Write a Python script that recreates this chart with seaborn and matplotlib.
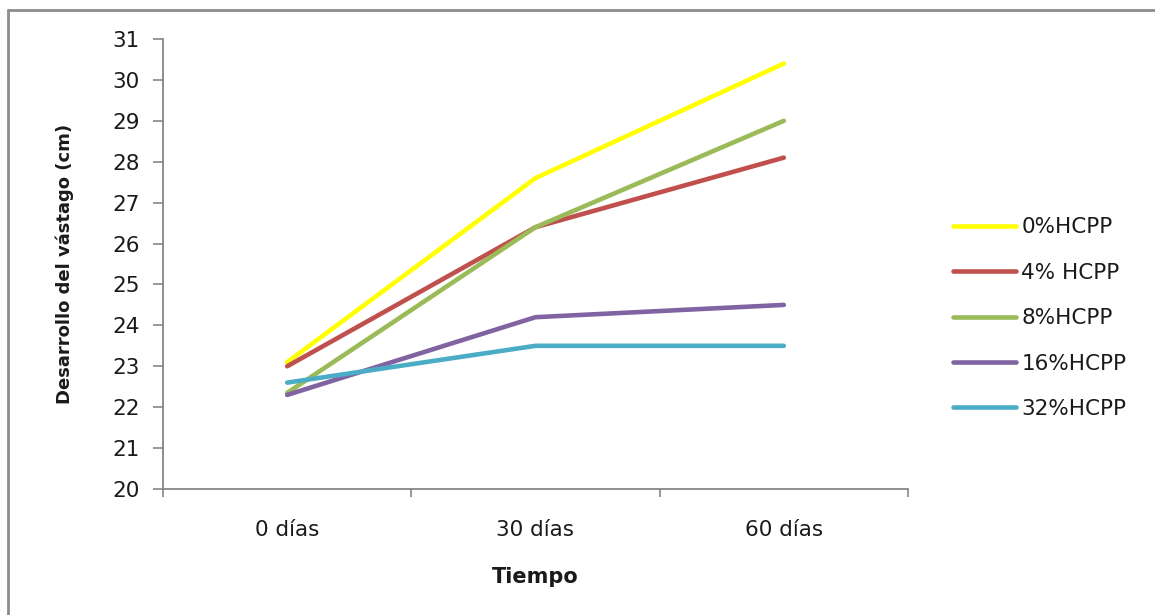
import matplotlib
matplotlib.use("Agg")
import matplotlib.pyplot as plt
from matplotlib.lines import Line2D
import seaborn as sns
import pandas as pd

# Data
tiempos = ["0 días", "30 días", "60 días"]
tratamientos = ["0%HCPP", "4% HCPP", "8%HCPP", "16%HCPP", "32%HCPP"]
hcpp_0 = [23.1, 27.6, 30.4]
hcpp_4 = [23.0, 26.4, 28.1]
hcpp_8 = [22.35, 26.4, 29.0]
hcpp_16 = [22.3, 24.2, 24.5]
hcpp_32 = [22.6, 23.5, 23.5]
colores = ["#FFFF00", "#C0504D", "#9BBB59", "#8064A2", "#4BACC6"]
y_ticks = list(range(20, 32))

series = [hcpp_0, hcpp_4, hcpp_8, hcpp_16, hcpp_32]
rows = []
for nombre, valores in zip(tratamientos, series):
    for t, v in zip(tiempos, valores):
        rows.append({"Tiempo": t, "valor": v, "Tratamiento": nombre})
df = pd.DataFrame(rows)

sns.set_style("white")
plt.rcParams["font.family"] = ["DejaVu Sans"]

TXT = "#1a1a1a"
GRIS = "#868686"

fig = plt.figure(figsize=(11.55, 6.15), dpi=100)
ax = fig.add_axes([163 / 1155, 1 - 489 / 615, (908 - 163) / 1155, (489 - 39) / 615])

sns.lineplot(data=df, x="Tiempo", y="valor", hue="Tratamiento",
             hue_order=tratamientos, palette=colores, sort=False,
             linewidth=3.3, ax=ax, legend=False)

ax.set_xlim(-0.5, 2.5)
ax.set_ylim(20, 31)
ax.set_yticks(y_ticks)
ax.set_yticklabels([str(v) for v in y_ticks], fontsize=15.5, color=TXT)
ax.set_xticks([0, 1, 2])
ax.set_xticklabels(tiempos, fontsize=15.5, color=TXT)
ax.set_xticks([-0.5, 0.5, 1.5, 2.5], minor=True)
ax.tick_params(left=True, bottom=True)
ax.tick_params(axis="x", which="major", length=0, pad=22)
ax.tick_params(axis="x", which="minor", bottom=True, length=6, width=1.2,
               color=GRIS, direction="out")
ax.tick_params(axis="y", which="major", length=7, width=1.2, color=GRIS,
               direction="out", pad=10)

for side in ["top", "right"]:
    ax.spines[side].set_visible(False)
for side in ["left", "bottom"]:
    ax.spines[side].set_color(GRIS)
    ax.spines[side].set_linewidth(1.3)

ax.set_xlabel("Tiempo", fontsize=15, fontweight="bold", color=TXT, labelpad=20)
ax.set_ylabel("Desarrollo del vástago (cm)", fontsize=13, fontweight="bold",
              color=TXT, labelpad=27)

handles = [Line2D([0], [0], color=c, linewidth=3.3) for c in colores]
fig.legend(handles, tratamientos, loc="upper left",
           bbox_to_anchor=(934 / 1155, 1 - 198 / 615), frameon=False,
           fontsize=15.5, handlelength=2.9, handletextpad=0.25, labelspacing=1.18,
           labelcolor=TXT)

# Outer chart frame
fig.add_artist(Line2D([8 / 1155, 1.0], [1 - 10 / 615, 1 - 10 / 615],
                      transform=fig.transFigure, color="#8c8c8c", linewidth=2))
fig.add_artist(Line2D([8 / 1155, 8 / 1155], [1 - 10 / 615, 0.0],
                      transform=fig.transFigure, color="#8c8c8c", linewidth=2))

fig.savefig("out.png", dpi=100, facecolor="white")
